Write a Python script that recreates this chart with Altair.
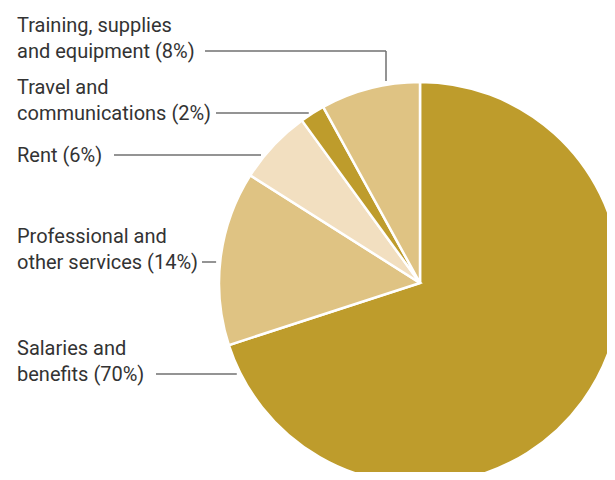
import math
import altair as alt
import pandas as pd

# ---- data ----
categories = [
    "Salaries and benefits",
    "Professional and other services",
    "Rent",
    "Travel and communications",
    "Training, supplies and equipment",
]
shares = [70, 14, 6, 2, 8]
label_lines = [
    ["Salaries and", "benefits"],
    ["Professional and", "other services"],
    ["Rent"],
    ["Travel and", "communications"],
    ["Training, supplies", "and equipment"],
]
colors = ["#BE9C2C", "#DFC383", "#F2DFC0", "#BE9C2C", "#DFC383"]

# ---- layout ----
W, H = 599, 464
CX, CY, R = 412, 275, 201
LH = 26.5
leader_y = [366, 254, 147, 105, 43]
leader_x0 = [148, 194, 106, 208, 197]
elbow_x = [None, None, None, None, 378]
GAP = 4
TEXT_X = 9

pie_df = pd.DataFrame({
    "category": categories,
    "share": shares,
    "idx": list(range(len(categories))),
})

seg_rows = []
text_rows = []
for i, cat in enumerate(categories):
    y = leader_y[i]
    lines = list(label_lines[i])
    lines[-1] = f"{lines[-1]} ({shares[i]}%)"
    text_rows.append({
        "x": TEXT_X,
        "y": y + 7 - (len(lines) - 1) * LH,
        "label": "\n".join(lines),
    })
    if elbow_x[i] is None:
        xe = CX - math.sqrt(R ** 2 - (y - CY) ** 2) - GAP
        seg_rows.append({"x": leader_x0[i], "y": y, "x2": xe, "y2": y})
    else:
        ex = elbow_x[i]
        ye = CY - math.sqrt(R ** 2 - (ex - CX) ** 2) - GAP
        seg_rows.append({"x": leader_x0[i], "y": y, "x2": ex, "y2": y})
        seg_rows.append({"x": ex, "y": y, "x2": ex, "y2": ye})

seg_df = pd.DataFrame(seg_rows)
text_df = pd.DataFrame(text_rows)

xs = alt.Scale(domain=[0, W], nice=False, zero=False)
ys = alt.Scale(domain=[0, H], nice=False, zero=False, reverse=True)

pie = alt.Chart(pie_df).mark_arc(
    radius=R, stroke="white", strokeWidth=2.5
).encode(
    theta=alt.Theta("share:Q", stack=True),
    order=alt.Order("idx:Q"),
    color=alt.Color("category:N", scale=alt.Scale(domain=categories, range=colors), legend=None),
    x=alt.value(CX),
    y=alt.value(CY),
)

leaders = alt.Chart(seg_df).mark_rule(color="#707070", strokeWidth=1.5).encode(
    x=alt.X("x:Q", scale=xs, axis=None),
    y=alt.Y("y:Q", scale=ys, axis=None),
    x2="x2:Q",
    y2="y2:Q",
)

labels = alt.Chart(text_df).mark_text(
    align="left", baseline="alphabetic", font="Roboto", fontSize=20,
    lineHeight=LH, lineBreak="\n", color="#333333",
).encode(
    x=alt.X("x:Q", scale=xs, axis=None),
    y=alt.Y("y:Q", scale=ys, axis=None),
    text="label:N",
)

chart = alt.layer(pie, leaders, labels).properties(
    width=W, height=H, padding=0, autosize=alt.AutoSizeParams(type="none"),
).configure_view(stroke=None)

chart.save("out.html", embed_options={"renderer": "svg", "actions": False})
